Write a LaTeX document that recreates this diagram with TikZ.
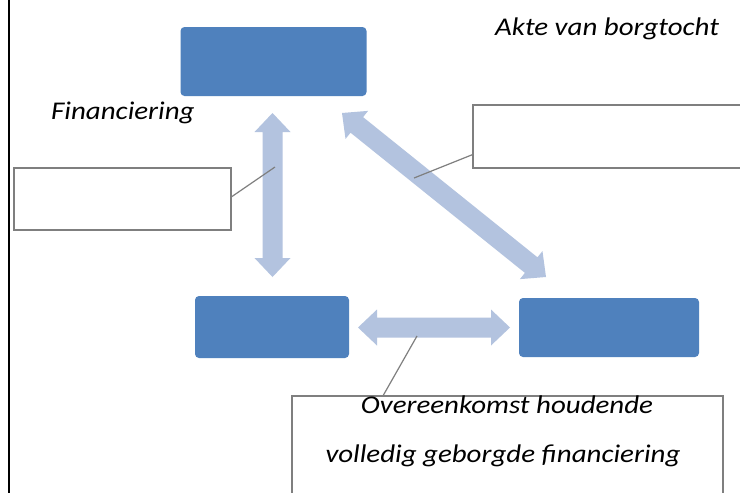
\documentclass[tikz,border=0pt]{standalone}
\usepackage{fontspec}
\usepackage{graphicx}
\setmainfont{Carlito}
\usetikzlibrary{calc}
\definecolor{boxblue}{HTML}{4F81BD}
\definecolor{arrblue}{HTML}{B3C3DF}
\definecolor{callgray}{HTML}{7F7F7F}
\newcommand{\blockarr}[2]{%
  \fill[arrblue] (#1)
  -- ($(#1)!19pt!(#2)!18pt!90:(#2)$)
  -- ($(#1)!19pt!(#2)!10pt!90:(#2)$)
  -- ($(#2)!19pt!(#1)!10pt!-90:(#1)$)
  -- ($(#2)!19pt!(#1)!18pt!-90:(#1)$)
  -- (#2)
  -- ($(#2)!19pt!(#1)!18pt!90:(#1)$)
  -- ($(#2)!19pt!(#1)!10pt!90:(#1)$)
  -- ($(#1)!19pt!(#2)!10pt!-90:(#2)$)
  -- ($(#1)!19pt!(#2)!18pt!-90:(#2)$)
  -- cycle;}
\newcommand{\wide}[1]{\scalebox{1.135}[1]{#1}}
\begin{document}
\begin{tikzpicture}[x=1pt,y=-1pt,
  bluebox/.style={draw=none,fill=boxblue,rounded corners=4pt,inner sep=0pt},
  callout/.style={draw=callgray,line width=1.4pt,fill=white,inner sep=0pt},
  leader/.style={draw=callgray,line width=1.2pt},
  lbl/.style={inner sep=0pt,font=\fontsize{25.5}{30}\selectfont\itshape}]
\clip (0,0) rectangle (740,493);
\fill[white] (0,0) rectangle (740,493);
\draw[line width=2pt] (9,-2) -- (9,495);
% boxes
\node[bluebox,minimum width=186pt,minimum height=69pt] (top) at (273.5,61.5) {};
\node[bluebox,minimum width=154pt,minimum height=62pt] (bl) at (272,327) {};
\node[bluebox,minimum width=180pt,minimum height=59pt] (br) at (609,327.5) {};
% arrow tips
\coordinate (v1) at (272.5,113);
\coordinate (v2) at (272.5,277);
\coordinate (d1) at (342,113);
\coordinate (d2) at (546,277);
\coordinate (h1) at (358,327.5);
\coordinate (h2) at (510,327.5);
\blockarr{v1}{v2}
\blockarr{d1}{d2}
\blockarr{h1}{h2}
% callouts
\node[callout,minimum width=217pt,minimum height=62pt] (cl) at (122.5,199) {};
\node[callout,minimum width=272pt,minimum height=63pt] (cr) at (609,136.5) {};
\node[callout,minimum width=431pt,minimum height=110pt] (cb) at (507.5,451) {};
\coordinate (pl) at (275,167);
\coordinate (pr) at (414,178);
\coordinate (pb) at (417,336);
\draw[leader] ($(cl.south east)+(0,-34)$) -- (pl);
\draw[leader] ($(cr.south west)+(0,-14)$) -- (pr);
\draw[leader] ($(cb.north west)+(92,0)$) -- (pb);
% texts
\node[lbl,anchor=base west] (fin) at (51,119) {\wide{Financiering}};
\node[lbl,anchor=base west] (akte) at (495,35) {\wide{Akte van borgtocht}};
\node[lbl,anchor=base] (ov1) at (507,413.5) {\wide{Overeenkomst houdende}};
\node[lbl,anchor=base] (ov2) at (503,462.5) {\wide{volledig geborgde financiering}};
\end{tikzpicture}
\end{document}
